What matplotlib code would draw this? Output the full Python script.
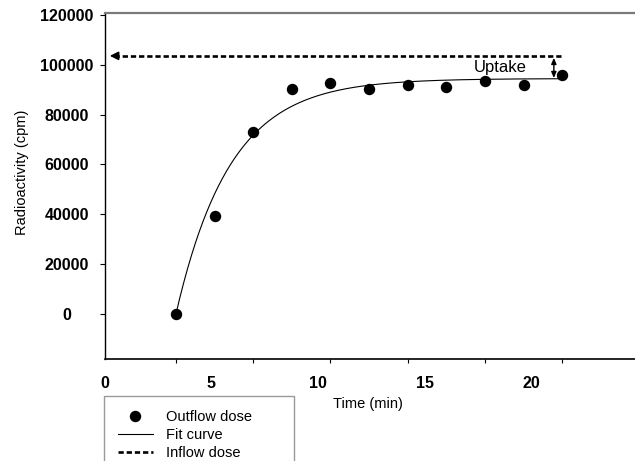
import numpy as np
import matplotlib
matplotlib.use("Agg")
import matplotlib.pyplot as plt
from matplotlib.lines import Line2D

plt.rcParams['font.family'] = ['Liberation Sans', 'DejaVu Sans']

# ---- data ----
time_min = [3.34, 5.15, 6.96, 8.77, 10.58, 12.39, 14.20, 16.01, 17.82, 19.63, 21.44]
outflow_cpm = [0, 39300, 73200, 90400, 92800, 90400, 91900, 91200, 93500, 91900, 96000]
inflow_cpm = 103600
fit_A = 94500        # plateau of fitted curve
fit_k = 0.394        # rate constant (1/min)
fit_t0 = 3.34        # start time of fitted curve
fit_t_end = 21.40
xtick_labels = ["0", "5", "10", "15", "20"]
xtick_values = [0, 5, 10, 15, 20]
ytick_values = [0, 20000, 40000, 60000, 80000, 100000, 120000]
legend_labels = ["Outflow dose", "Fit curve", "Inflow dose"]

W, H = 635, 461
fig = plt.figure(figsize=(W / 100, H / 100), dpi=100)
ax_l, ax_r, ax_b, ax_t = 104.7, 636, 359.3, 13.5
ax = fig.add_axes([ax_l / W, 1 - ax_b / H, (ax_r - ax_l) / W, (ax_b - ax_t) / H])

ax.set_xlim(0.09, 24.9)
ax.set_ylim(-18180, 120600)

# fit curve
tt = np.linspace(fit_t0, fit_t_end, 300)
ax.plot(tt, fit_A * (1 - np.exp(-fit_k * (tt - fit_t0))), color='black', lw=0.8, zorder=2)

# data points
ax.plot(time_min, outflow_cpm, 'o', color='black', ms=7.2, zorder=3)

# inflow dashed line with arrow head on the left
ax.plot([0.45, 21.5], [inflow_cpm, inflow_cpm], color='black', lw=1.9,
        dashes=(2.0, 1.1), solid_capstyle='butt', dash_capstyle='butt', zorder=2)
ax.annotate('', xy=(0.24, inflow_cpm), xytext=(0.6, inflow_cpm),
            arrowprops=dict(arrowstyle='-|>,head_length=0.5,head_width=0.25',
                            color='black', lw=1.2, shrinkA=0, shrinkB=0))

# uptake double arrow
ax.annotate('', xy=(21.05, inflow_cpm - 800), xytext=(21.05, fit_A + 200),
            arrowprops=dict(arrowstyle='<|-|>,head_length=0.35,head_width=0.15',
                            color='black', lw=1.0, shrinkA=0, shrinkB=0))
ax.text(18.55, 98800, "Uptake", fontsize=12, ha='center', va='center')

# spines
ax.spines['right'].set_visible(False)
ax.spines['top'].set_color('#7a7a7a')
ax.spines['top'].set_linewidth(1.6)
ax.spines['left'].set_linewidth(1.0)
ax.spines['bottom'].set_linewidth(1.2)

# y ticks
ax.set_yticks(ytick_values)
ax.set_yticklabels([str(v) for v in ytick_values], fontsize=11.5, fontweight='bold')
ax.tick_params(axis='y', direction='out', length=3.6, width=0.8, pad=23.5)
plt.setp(ax.get_yticklabels(), ha='center')

# x ticks: labels without marks, marks at every other sample
ax.set_xticks(xtick_values)
ax.set_xticklabels(xtick_labels, fontsize=11.5, fontweight='bold')
ax.tick_params(axis='x', which='major', length=0, pad=12)
ax.set_xticks(time_min[::2][:6], minor=True)
ax.tick_params(axis='x', which='minor', direction='out', length=2.6, width=0.8)

ax.set_xlabel("Time (min)", fontsize=10.5, va='center')
ax.xaxis.set_label_coords((368 - ax_l) / (ax_r - ax_l), (ax_b - 404) / (ax_b - ax_t))
ax.set_ylabel("Radioactivity (cpm)", fontsize=10.5, va='center')
ax.yaxis.set_label_coords((21.7 - ax_l) / (ax_r - ax_l), (ax_b - 172) / (ax_b - ax_t))

# legend
handles = [
    Line2D([], [], marker='o', color='black', ls='none', ms=7.2),
    Line2D([], [], color='black', lw=0.8),
    Line2D([], [], color='black', lw=1.9, dashes=(2.0, 1.1)),
]
leg = fig.legend(handles, legend_labels, loc='upper left',
                 bbox_to_anchor=(104 / W, 1 - 396.7 / H, (294.3 - 104) / W, 0.001),
                 mode='expand', fontsize=10.5, frameon=True, fancybox=False,
                 edgecolor='#808080', handlelength=2.4, handletextpad=0.9,
                 labelspacing=0.26, borderpad=0.95, borderaxespad=0)
leg.get_frame().set_linewidth(1.0)

fig.savefig("out.png", dpi=100)
